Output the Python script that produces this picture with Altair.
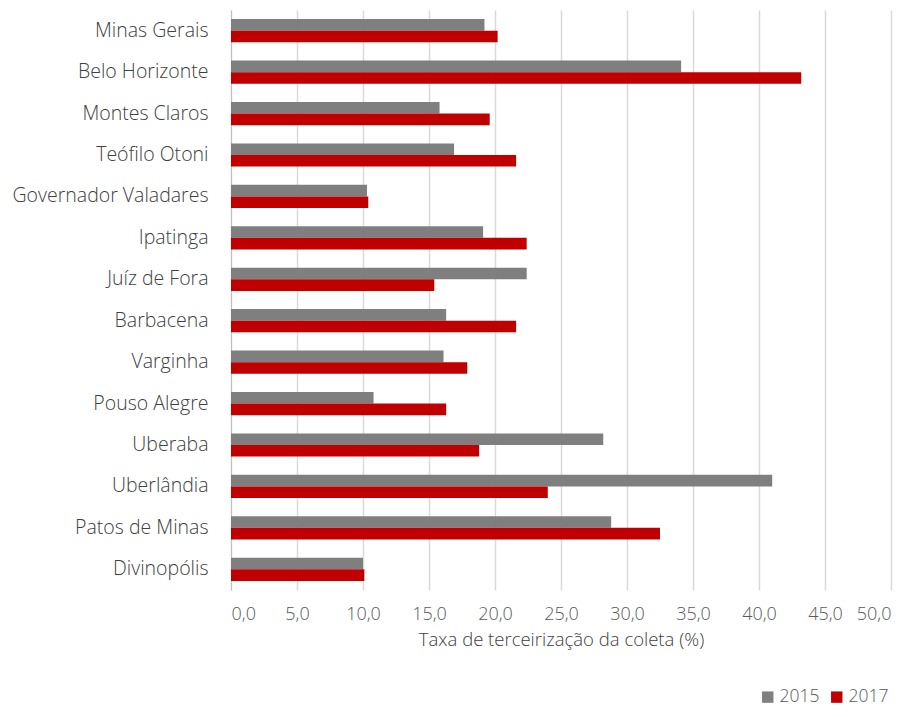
import altair as alt
import pandas as pd

cities = ["Minas Gerais", "Belo Horizonte", "Montes Claros", "Teófilo Otoni",
          "Governador Valadares", "Ipatinga", "Juíz de Fora", "Barbacena",
          "Varginha", "Pouso Alegre", "Uberaba", "Uberlândia", "Patos de Minas",
          "Divinopólis"]
v2015 = [19.2, 34.1, 15.8, 16.9, 10.3, 19.1, 22.4, 16.3, 16.1, 10.8, 28.2, 41.0, 28.8, 10.0]
v2017 = [20.2, 43.2, 19.6, 21.6, 10.4, 22.4, 15.4, 21.6, 17.9, 16.3, 18.8, 24.0, 32.5, 10.1]
years = ["2015", "2017"]

rows = []
for c, a, b in zip(cities, v2015, v2017):
    rows.append({"city": c, "year": years[0], "value": a})
    rows.append({"city": c, "year": years[1], "value": b})
df = pd.DataFrame(rows)

FONT = "Open Sans"

chart = alt.Chart(df).mark_bar().encode(
    y=alt.Y("city:N", sort=cities,
            scale=alt.Scale(paddingInner=0.44, paddingOuter=0.22),
            axis=alt.Axis(title=None, ticks=False, domain=True, domainColor="#bfbfbf",
                          labelFontSize=19.5, labelColor="#404040", labelFont=FONT,
                          labelFontWeight=300, labelPadding=23, labelLimit=400, grid=False)),
    yOffset=alt.YOffset("year:N", sort=years),
    x=alt.X("value:Q", scale=alt.Scale(domain=[0, 50]),
            axis=alt.Axis(title="Taxa de terceirização da coleta (%)", values=list(range(0, 55, 5)),
                          labelExpr="replace(format(datum.value, '.1f'), '.', ',')",
                          grid=True, gridColor="#d9d9d9", gridWidth=1.5, domain=False, ticks=False,
                          labelFontSize=18, labelColor="#595959", labelFont=FONT, labelFontWeight=300,
                          labelPadding=15, titleFontSize=18.5, titleColor="#404040", titleFont=FONT,
                          titleFontWeight=300, titlePadding=7)),
    color=alt.Color("year:N", sort=years,
                    scale=alt.Scale(domain=years, range=["#7f7f7f", "#c00000"]),
                    legend=alt.Legend(title=None, orient="none", direction="horizontal",
                                      legendX=528, legendY=678, symbolType="square",
                                      symbolSize=130, symbolStrokeWidth=0, labelFontSize=17.5,
                                      labelColor="#595959", labelFont=FONT, labelFontWeight=300,
                                      columnPadding=8, labelOffset=3)),
).properties(
    width=660, height=580,
    padding={"left": 223, "top": 2, "right": 11, "bottom": 119},
    autosize=alt.AutoSizeParams(type="none"),
).configure_view(stroke=None)

chart.save("out.html", embed_options={"renderer": "svg", "actions": False})
